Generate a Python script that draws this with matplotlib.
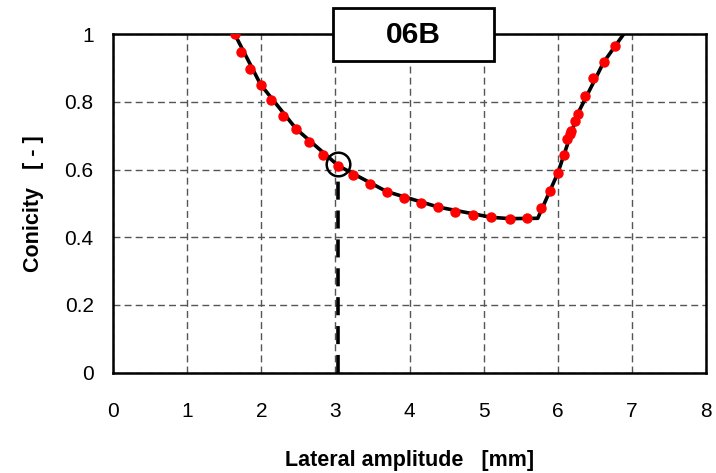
import matplotlib.pyplot as plt
from matplotlib.patches import Rectangle

plt.rcParams['font.family'] = ['Liberation Sans', 'DejaVu Sans']

# measured points (lateral amplitude [mm], conicity [-])
amp = [1.64, 1.73, 1.85, 1.99, 2.13, 2.29, 2.47, 2.64, 2.83, 3.04,
       3.24, 3.46, 3.69, 3.92, 4.15, 4.39, 4.62, 4.86, 5.10, 5.35, 5.59,
       5.78, 5.90, 6.00, 6.08, 6.13, 6.17, 6.18, 6.23, 6.27, 6.37, 6.47,
       6.62, 6.77]
con = [1.000, 0.947, 0.897, 0.851, 0.805, 0.758, 0.720, 0.680, 0.644, 0.611,
       0.583, 0.558, 0.535, 0.516, 0.502, 0.489, 0.474, 0.466, 0.459, 0.454, 0.456,
       0.487, 0.536, 0.589, 0.643, 0.691, 0.706, 0.713, 0.743, 0.765, 0.818, 0.871,
       0.917, 0.964]

# equivalent conicity curve
curve_x = [1.64, 1.99, 2.47, 3.04, 3.69, 4.39, 5.10, 5.35, 5.73, 6.00, 6.27, 6.62, 6.89]
curve_y = [1.000, 0.851, 0.720, 0.611, 0.535, 0.489, 0.459, 0.455, 0.456, 0.589, 0.765, 0.917, 1.000]

# marked point
mark_x = 3.04
mark_y = 0.615

label = '06B'

fig = plt.figure(figsize=(7.16, 4.73), dpi=100)
ax = fig.add_axes([0.158, 0.212, 0.828, 0.716])

ax.plot(curve_x, curve_y, color='black', lw=2.6, zorder=3)
ax.plot(amp, con, 'o', color='#ff0000', ms=6.5, zorder=4)
ax.plot([mark_x], [mark_y], 'o', ms=17, mfc='none', mec='black', mew=1.8, zorder=5)
ax.plot([mark_x, mark_x], [0, mark_y - 0.04], color='black', lw=2.6,
        dashes=(5, 3), zorder=5)

ax.set_xlim(0, 8)
ax.set_ylim(0, 1)
ax.set_xticks(range(0, 9))
ax.set_yticks([0, 0.2, 0.4, 0.6, 0.8, 1])
ax.set_yticklabels(['0', '0.2', '0.4', '0.6', '0.8', '1'])
ax.tick_params(length=0, labelsize=15)
ax.tick_params(axis='x', pad=21)
ax.tick_params(axis='y', pad=14)
ax.grid(True, color='#555555', ls=(0, (5, 3)), lw=1)
for s in ax.spines.values():
    s.set_linewidth(1.8)

ax.set_xlabel('Lateral amplitude   [mm]', fontsize=15.5, fontweight='bold', labelpad=21)
ax.set_ylabel('Conicity   [ - ]', fontsize=15.5, fontweight='bold', labelpad=15)

fig.patches.append(Rectangle((0.465, 0.871), 0.225, 0.112, transform=fig.transFigure,
                             facecolor='white', edgecolor='black', lw=2, zorder=10))
fig.text(0.577, 0.926, label, fontsize=21.5, fontweight='bold', ha='center', va='center',
         zorder=11)

fig.savefig('out.png', dpi=100)
